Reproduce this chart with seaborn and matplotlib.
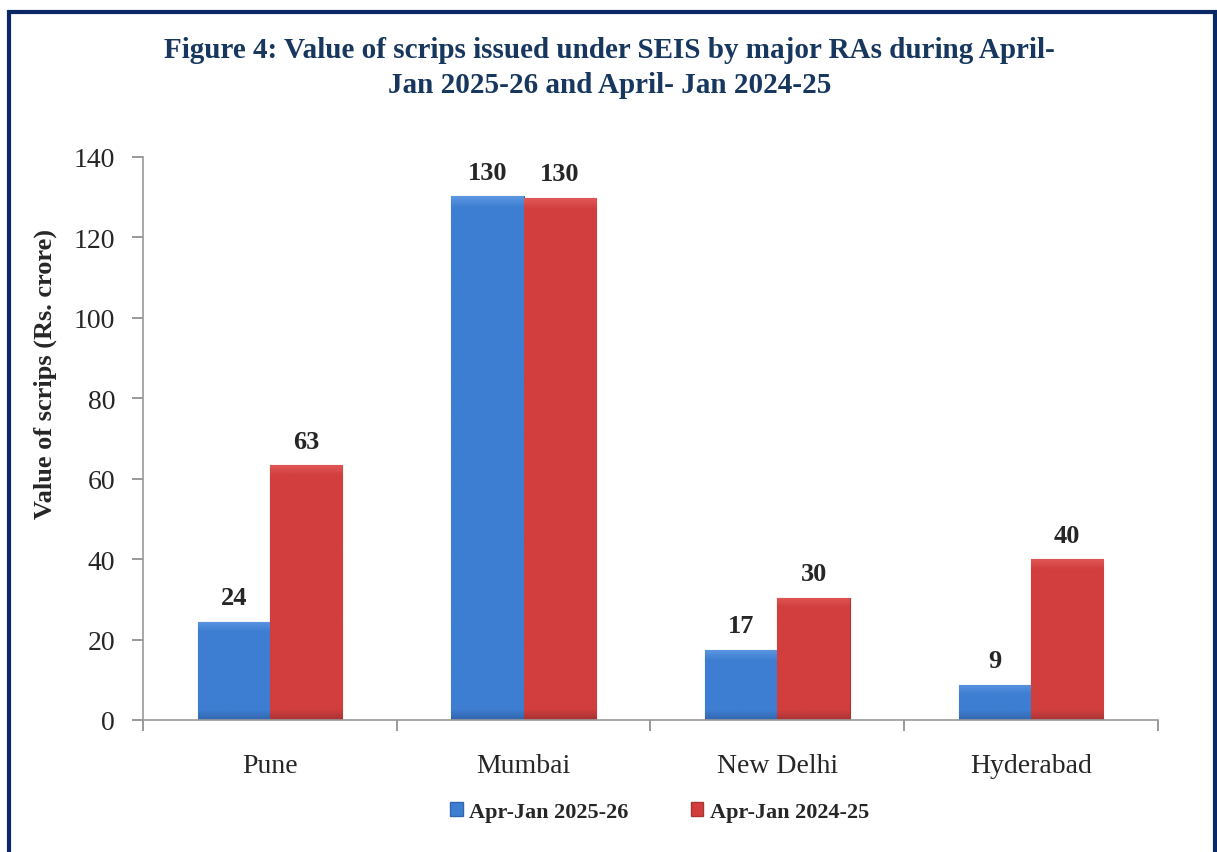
import numpy as np
import pandas as pd
import matplotlib.pyplot as plt
import matplotlib.patches as mpatches
from matplotlib.colors import LinearSegmentedColormap
import seaborn as sns

sns.set_style("white")
plt.rcParams['font.family'] = ['Liberation Serif', 'DejaVu Serif']

# ---- data ----
cities = ["Pune", "Mumbai", "New Delhi", "Hyderabad"]
periods = ["Apr-Jan 2025-26", "Apr-Jan 2024-25"]
val_2025_26 = [24.4, 130.2, 17.4, 8.8]
val_2024_25 = [63.3, 129.8, 30.4, 40.0]

df = pd.DataFrame({
    "City": cities * 2,
    "Period": [periods[0]] * 4 + [periods[1]] * 4,
    "Value": val_2025_26 + val_2024_25,
})

blue = "#3e7ed2"
red = "#d23e3e"
navy = "#17375e"

fig = plt.figure(figsize=(12.17, 8.53), dpi=100)
ax = fig.add_axes([0.1175, 0.1548, 0.834, 0.66])

sns.barplot(data=df, x="City", y="Value", hue="Period", order=cities,
            hue_order=periods, palette=[blue, red], width=0.57,
            saturation=1, legend=False, ax=ax)

# bevel shading on each bar: darker foot, lighter top, same depth on every bar
shades = {blue: ("#5a95e0", "#3266ae"), red: ("#e05656", "#a83434")}
for bar, col in zip(ax.patches, [blue] * 4 + [red] * 4):
    x0, y0 = bar.get_x(), bar.get_y()
    w, h = bar.get_width(), bar.get_height()
    f = min(2.5 / h, 0.3)
    cmap = LinearSegmentedColormap.from_list(
        "g", [(0, shades[col][1]), (f, col), (1 - f, col), (1, shades[col][0])])
    grad = np.linspace(0, 1, 256).reshape(-1, 1)
    im = ax.imshow(grad, cmap=cmap, aspect="auto", origin="lower",
                   extent=[x0, x0 + w, y0, y0 + h], zorder=bar.get_zorder() + 0.1)
    im.set_clip_path(bar)
    bar.set_edgecolor(shades[col][1])
    bar.set_linewidth(0.8)

ax.set_xlim(-0.5, 3.5)
ax.set_ylim(0, 140)
ax.set_yticks(range(0, 141, 20))
ax.set_xlabel("")
ax.set_ylabel("")
ax.set_xticks(np.arange(-0.5, 4, 1), minor=True)
ax.tick_params(axis="x", which="major", bottom=True, length=0, pad=24, labelsize=20)
ax.tick_params(axis="x", which="minor", bottom=True, length=8, color="#888888", width=1.2)
ax.tick_params(axis="y", left=True, length=8, color="#888888", width=1.2, pad=12, labelsize=20)

for side in ["top", "right"]:
    ax.spines[side].set_visible(False)
for side in ["left", "bottom"]:
    ax.spines[side].set_color("#999999")
    ax.spines[side].set_linewidth(1.2)

# data labels
labels = val_2025_26 + val_2024_25
for bar, v in zip(ax.patches, labels):
    ax.annotate(f"{v:.0f}", (bar.get_x() + bar.get_width() / 2, bar.get_height()),
                xytext=(0, 9), textcoords="offset points", ha="center", va="bottom",
                fontsize=19, fontweight="bold")

fig.text(0.037, 0.5615, "Value of scrips (Rs. crore)", rotation=90,
         ha="center", va="center", fontsize=19, fontweight="bold")

fig.text(0.501, 0.92,
         "Figure 4: Value of scrips issued under SEIS by major RAs during April-\n"
         "Jan 2025-26 and April- Jan 2024-25",
         ha="center", va="center", fontsize=21, fontweight="bold", color=navy,
         linespacing=1.4)

handles = [mpatches.Patch(facecolor=blue, edgecolor="#3266ae"),
           mpatches.Patch(facecolor=red, edgecolor="#a83434")]
fig.legend(handles, periods, loc="center", bbox_to_anchor=(0.542, 0.047), ncol=2,
           frameon=False, handlelength=0.55, handleheight=0.55, handletextpad=0.3,
           columnspacing=2.8, prop={"size": 16, "weight": "bold"})

# outer frame
fig.patches.append(mpatches.Rectangle((8.5 / 1217, -0.05), (1214.5 - 8.5) / 1217,
                                      1.05 - 12.5 / 853, transform=fig.transFigure,
                                      fill=False, edgecolor="#0b2766", linewidth=3))

fig.savefig("out.png", dpi=100)
